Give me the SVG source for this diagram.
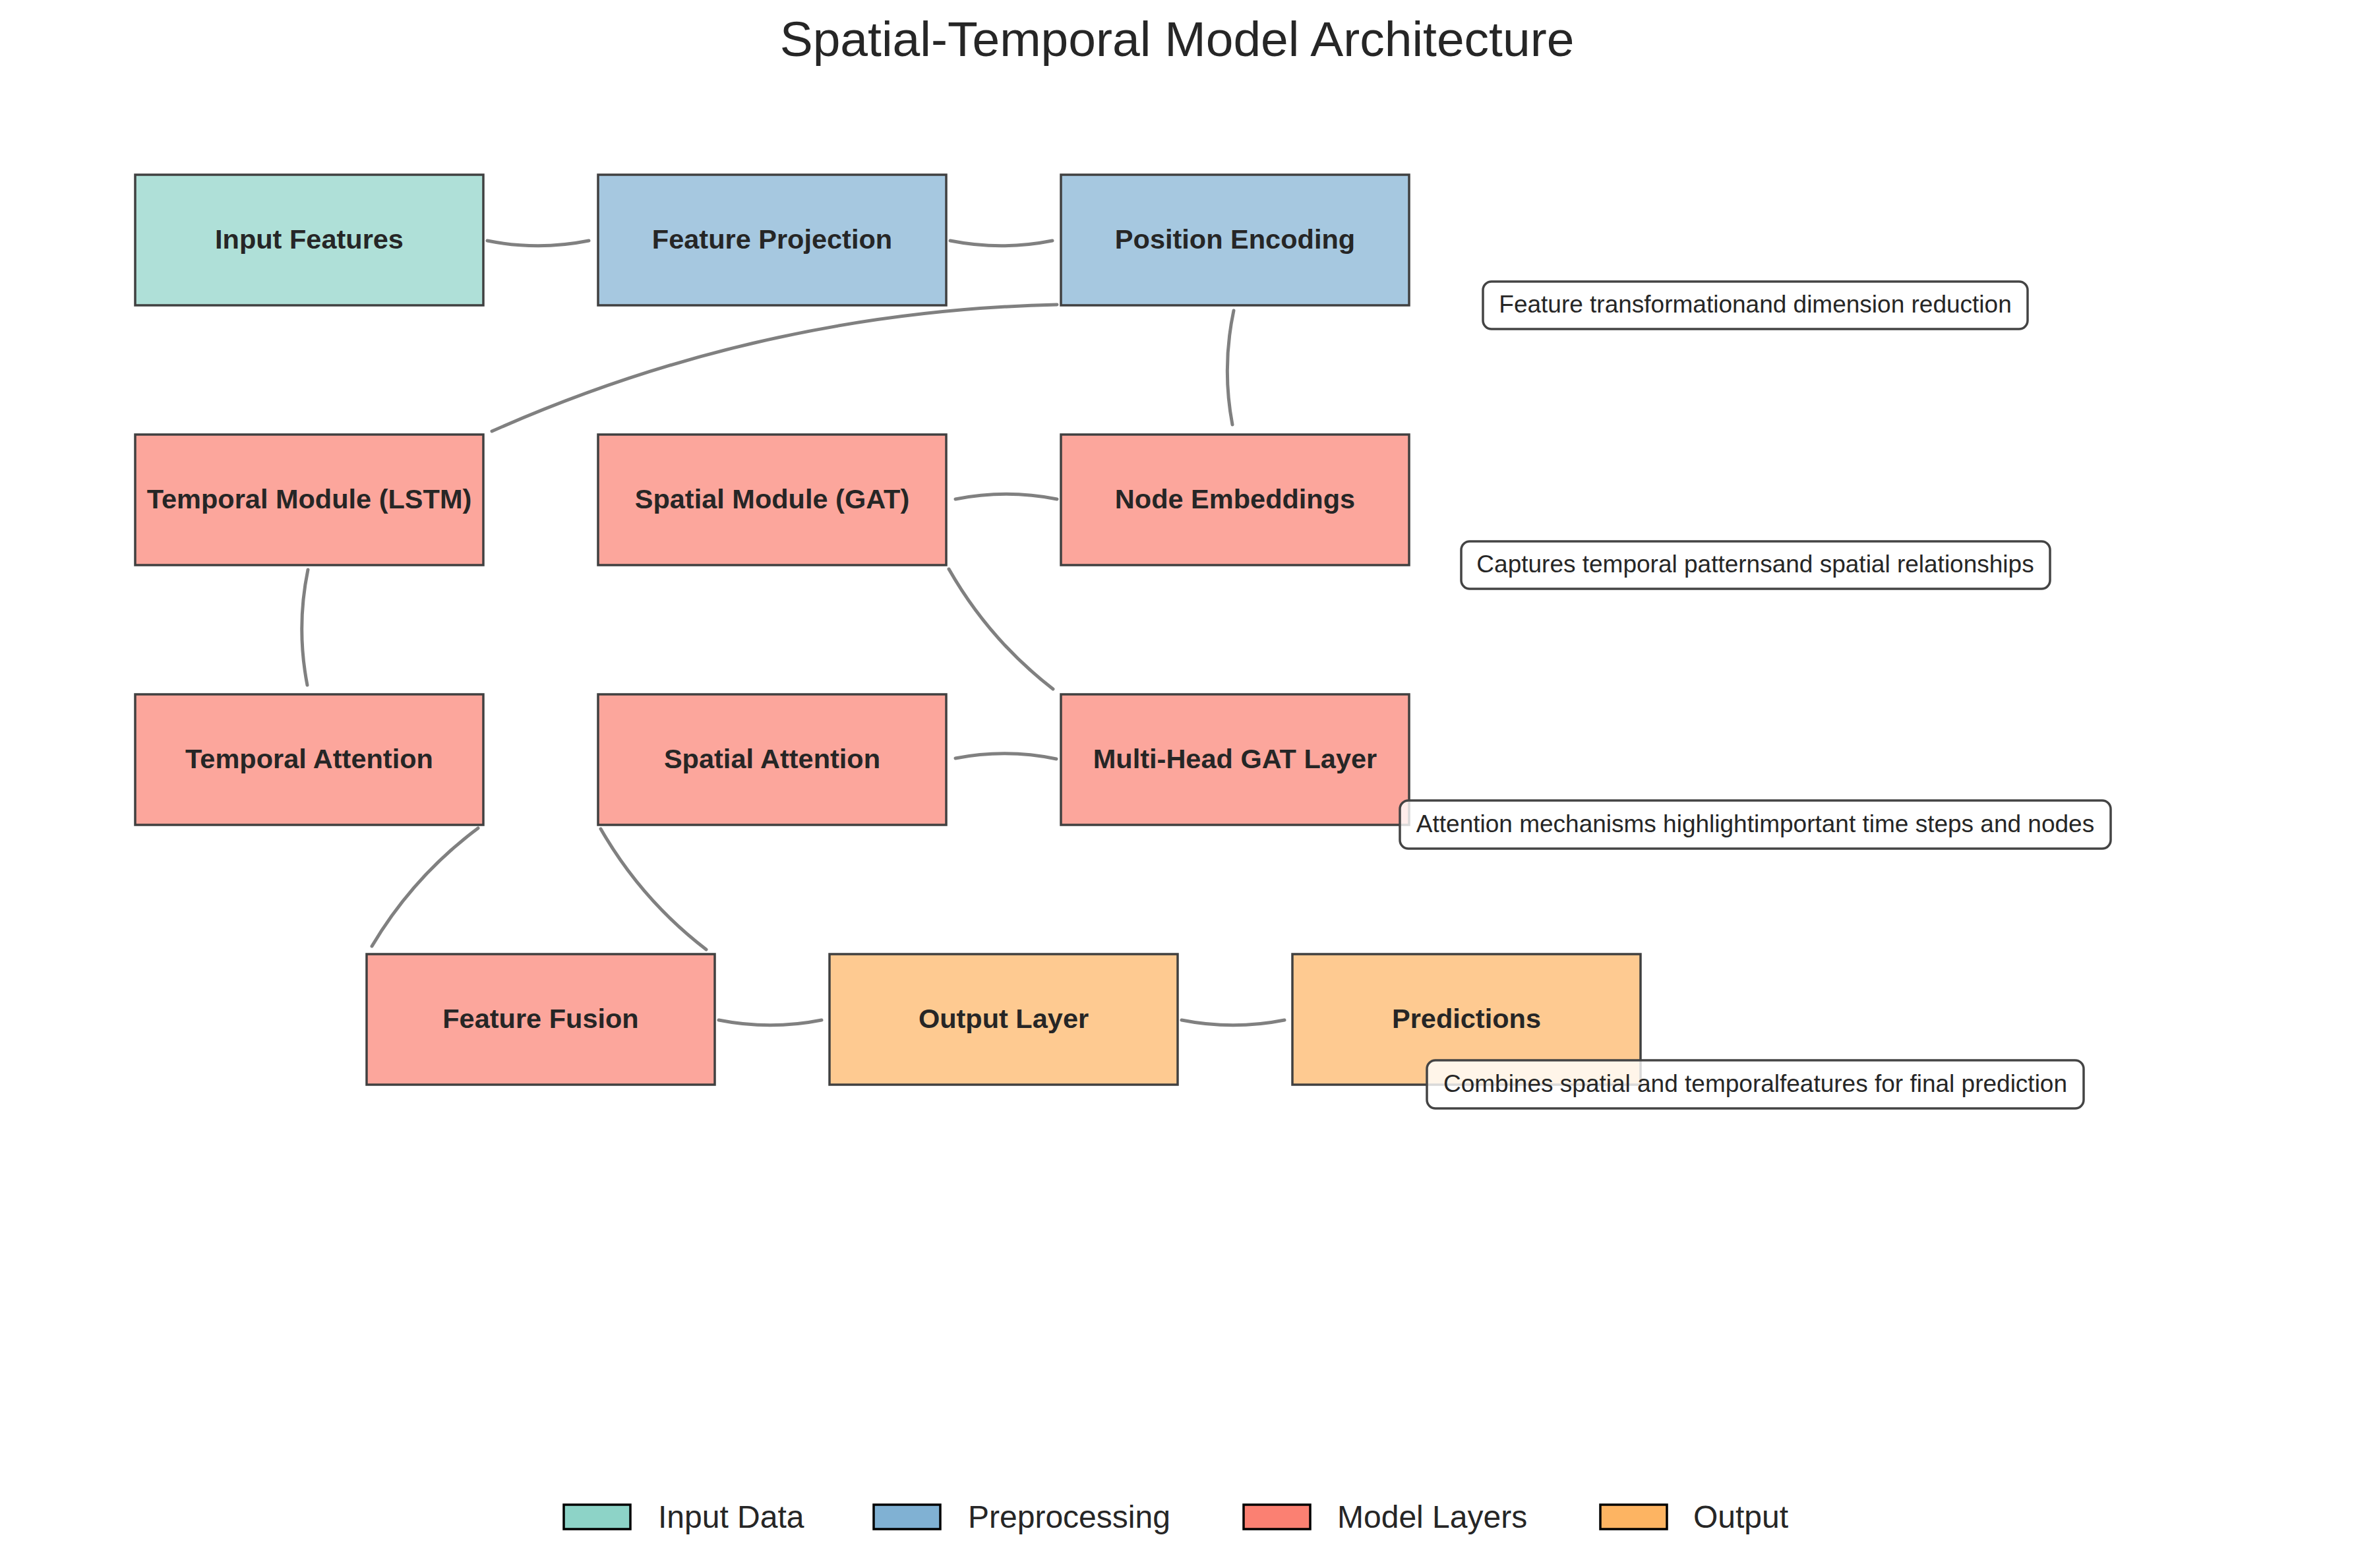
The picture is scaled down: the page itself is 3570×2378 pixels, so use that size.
<svg xmlns="http://www.w3.org/2000/svg" width="3570" height="2378" viewBox="0 0 3570 2378">
<style>
.node rect{stroke:#404040;stroke-width:3.5}
.node text{font-family:"Liberation Sans",Arial,sans-serif;font-weight:bold;font-size:41.5px;fill:#262626;text-anchor:middle}
.inp rect{fill:#afe0d8}
.pre rect{fill:#a6c8e0}
.mod rect{fill:#fca69c}
.out rect{fill:#feca91}
#connectors path{fill:none;stroke:#808080;stroke-width:5;stroke-linecap:round}
.note rect{fill:#ffffff;fill-opacity:0.8;stroke:#444444;stroke-width:3.5}
.note text{font-family:"Liberation Sans",Arial,sans-serif;font-size:37px;fill:#262626;text-anchor:middle}
.title{font-family:"Liberation Sans",Arial,sans-serif;font-size:75px;fill:#262626;text-anchor:middle}
.legend rect{stroke:#000000;stroke-width:3.5}
.legend text{font-family:"Liberation Sans",Arial,sans-serif;font-size:48px;fill:#262626}
</style>
<rect x="0" y="0" width="3570" height="2378" fill="#ffffff"/>
<text class="title" x="1785" y="85">Spatial-Temporal Model Architecture</text>

<g id="connectors">
<path d="M739,365 Q816,380.4 893,365"/>
<path d="M1441,365 Q1518.5,380.5 1596,365"/>
<path d="M1603,462 Q1155.3,472.3 746,654"/>
<path d="M1871,471 Q1852.7,557.3 1869,644"/>
<path d="M1603,757 Q1526,741.6 1449,757"/>
<path d="M1439,863 Q1499.8,969.8 1597,1045"/>
<path d="M467,864 Q449,951.4 466,1039"/>
<path d="M1602,1151 Q1525.6,1135.2 1449,1150"/>
<path d="M725,1256 Q626.6,1329.4 564,1435"/>
<path d="M911,1257 Q972.7,1364.5 1071,1440"/>
<path d="M1090,1547 Q1168,1562.6 1246,1547"/>
<path d="M1792,1547 Q1870,1562.6 1948,1547"/>
</g>

<g id="node-input-features" class="node inp"><rect x="205" y="265" width="528" height="198"/><text x="469" y="377">Input Features</text></g>
<g id="node-feature-projection" class="node pre"><rect x="907" y="265" width="528" height="198"/><text x="1171" y="377">Feature Projection</text></g>
<g id="node-position-encoding" class="node pre"><rect x="1609" y="265" width="528" height="198"/><text x="1873" y="377">Position Encoding</text></g>

<g id="node-temporal-module" class="node mod"><rect x="205" y="659" width="528" height="198"/><text x="469" y="771">Temporal Module (LSTM)</text></g>
<g id="node-spatial-module" class="node mod"><rect x="907" y="659" width="528" height="198"/><text x="1171" y="771">Spatial Module (GAT)</text></g>
<g id="node-node-embeddings" class="node mod"><rect x="1609" y="659" width="528" height="198"/><text x="1873" y="771">Node Embeddings</text></g>

<g id="node-temporal-attention" class="node mod"><rect x="205" y="1053" width="528" height="198"/><text x="469" y="1165">Temporal Attention</text></g>
<g id="node-spatial-attention" class="node mod"><rect x="907" y="1053" width="528" height="198"/><text x="1171" y="1165">Spatial Attention</text></g>
<g id="node-multi-head-gat" class="node mod"><rect x="1609" y="1053" width="528" height="198"/><text x="1873" y="1165">Multi-Head GAT Layer</text></g>

<g id="node-feature-fusion" class="node mod"><rect x="556" y="1447" width="528" height="198"/><text x="820" y="1559">Feature Fusion</text></g>
<g id="node-output-layer" class="node out"><rect x="1258" y="1447" width="528" height="198"/><text x="1522" y="1559">Output Layer</text></g>
<g id="node-predictions" class="node out"><rect x="1960" y="1447" width="528" height="198"/><text x="2224" y="1559">Predictions</text></g>

<g id="note-1" class="note"><rect x="2249" y="427" width="826" height="72" rx="13"/><text x="2662" y="474">Feature transformationand dimension reduction</text></g>
<g id="note-2" class="note"><rect x="2216" y="821" width="893" height="72" rx="13"/><text x="2662" y="868">Captures temporal patternsand spatial relationships</text></g>
<g id="note-3" class="note"><rect x="2123" y="1214" width="1078" height="73" rx="13"/><text x="2662" y="1262">Attention mechanisms highlightimportant time steps and nodes</text></g>
<g id="note-4" class="note"><rect x="2164" y="1608" width="996" height="73" rx="13"/><text x="2662" y="1656">Combines spatial and temporalfeatures for final prediction</text></g>

<g id="legend" class="legend">
<rect x="855" y="2282" width="101" height="37" fill="#8dd3c7"/><text x="998" y="2317">Input Data</text>
<rect x="1325" y="2282" width="101" height="37" fill="#80b1d3"/><text x="1468" y="2317">Preprocessing</text>
<rect x="1886" y="2282" width="101" height="37" fill="#fb8072"/><text x="2028" y="2317">Model Layers</text>
<rect x="2427" y="2282" width="101" height="37" fill="#fdb462"/><text x="2568" y="2317">Output</text>
</g>
</svg>
